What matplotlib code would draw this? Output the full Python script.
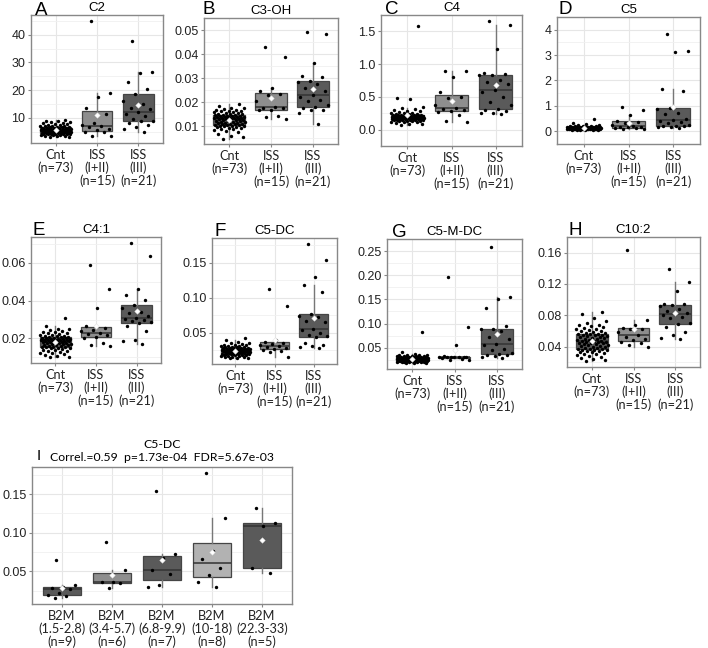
import matplotlib
matplotlib.use("Agg")
import matplotlib.pyplot as plt
import numpy as np

# x labels
iss_labels = ["Cnt\n(n=73)", "ISS\n(I+II)\n(n=15)", "ISS\n(III)\n(n=21)"]
b2m_labels = ["B2M\n(1.5-2.8)\n(n=9)", "B2M\n(3.4-5.7)\n(n=6)", "B2M\n(6.8-9.9)\n(n=7)",
              "B2M\n(10-18)\n(n=8)", "B2M\n(22.3-33)\n(n=5)"]

# ---- A: C2 ----
c2_cnt = [3.0, 3.2, 3.3, 3.5, 3.6, 3.7, 3.8, 3.9, 4.0, 4.0, 4.1, 4.2, 4.2, 4.3, 4.3, 4.4, 4.4, 4.5,
          4.5, 4.6, 4.6, 4.7, 4.7, 4.8, 4.8, 4.9, 5.0, 5.0, 5.1, 5.1, 5.2, 5.2, 5.3, 5.3, 5.4, 5.4,
          5.5, 5.5, 5.6, 5.6, 5.7, 5.7, 5.8, 5.9, 5.9, 6.0, 6.0, 6.1, 6.1, 6.2, 6.3, 6.3, 6.4, 6.4,
          6.5, 6.6, 6.7, 6.8, 6.9, 7.0, 7.1, 7.2, 7.4, 7.5, 7.7, 7.9, 8.0, 8.2, 8.4, 8.6, 8.8, 9.0, 9.2]
c2_iss12 = [45, 19, 17.5, 13.5, 11.5, 8, 7.5, 7, 6.5, 6, 5.5, 5, 4.8, 3.5, 3.3]
c2_iss3 = [37.7, 26.7, 26, 23, 20.5, 18.6, 16, 15, 13.5, 13, 12, 11.5, 10.5, 9.5, 9, 8.8, 8,
           7.5, 6.5, 6, 5]

# ---- B: C3-OH ----
c3oh_cnt = [0.0049, 0.0058, 0.0062, 0.0068, 0.0075, 0.0080, 0.0084, 0.0088, 0.0090, 0.0093,
            0.0095, 0.0097, 0.0099, 0.0100, 0.0101, 0.0102, 0.0103, 0.0104, 0.0105, 0.0106,
            0.0108, 0.0109, 0.0110, 0.0112, 0.0113, 0.0115, 0.0116, 0.0118, 0.0119, 0.0120,
            0.0122, 0.0123, 0.0124, 0.0126, 0.0127, 0.0128, 0.0129, 0.0130, 0.0131, 0.0132,
            0.0133, 0.0134, 0.0135, 0.0136, 0.0137, 0.0138, 0.0139, 0.0140, 0.0141, 0.0142,
            0.0143, 0.0144, 0.0145, 0.0146, 0.0147, 0.0148, 0.0150, 0.0151, 0.0153, 0.0155,
            0.0157, 0.0159, 0.0160, 0.0162, 0.0164, 0.0166, 0.0168, 0.0170, 0.0172, 0.0175,
            0.0178, 0.0185, 0.0192]
c3oh_iss12 = [0.043, 0.039, 0.026, 0.0245, 0.0235, 0.023, 0.0205, 0.018, 0.0178, 0.0175,
              0.017, 0.0168, 0.0145, 0.014, 0.013]
c3oh_iss3 = [0.049, 0.0485, 0.0365, 0.031, 0.0305, 0.029, 0.0285, 0.0275, 0.026, 0.0245,
             0.0232, 0.022, 0.021, 0.0205, 0.019, 0.018, 0.0175, 0.017, 0.017, 0.0155, 0.011]

# ---- C: C4 ----
c4_cnt = [0.07, 0.08, 0.09, 0.10, 0.11, 0.115, 0.12, 0.125, 0.13, 0.13, 0.135, 0.14, 0.14, 0.145,
          0.145, 0.15, 0.15, 0.155, 0.155, 0.16, 0.16, 0.165, 0.165, 0.17, 0.17, 0.17, 0.175, 0.175,
          0.18, 0.18, 0.18, 0.185, 0.185, 0.185, 0.19, 0.19, 0.19, 0.195, 0.195, 0.195, 0.20, 0.20,
          0.20, 0.205, 0.205, 0.21, 0.21, 0.21, 0.215, 0.215, 0.22, 0.22, 0.22, 0.225, 0.225, 0.23,
          0.23, 0.235, 0.24, 0.245, 0.25, 0.255, 0.26, 0.27, 0.28, 0.29, 0.30, 0.31, 0.33, 0.35,
          0.46, 0.49, 1.58]
c4_iss12 = [0.90, 0.89, 0.80, 0.57, 0.50, 0.48, 0.38, 0.33, 0.32, 0.30, 0.29, 0.27, 0.23, 0.13, 0.11]
c4_iss3 = [1.66, 1.59, 1.23, 0.87, 0.85, 0.84, 0.83, 0.76, 0.72, 0.70, 0.60, 0.57, 0.50, 0.42,
           0.37, 0.31, 0.30, 0.28, 0.26, 0.25, 0.24]

# ---- D: C5 ----
c5_cnt = [0.05, 0.055, 0.06, 0.065, 0.07, 0.07, 0.075, 0.08, 0.08, 0.085, 0.085, 0.09, 0.09, 0.09,
          0.095, 0.095, 0.10, 0.10, 0.10, 0.10, 0.105, 0.105, 0.11, 0.11, 0.11, 0.115, 0.115, 0.12,
          0.12, 0.12, 0.12, 0.125, 0.125, 0.125, 0.13, 0.13, 0.13, 0.13, 0.135, 0.135, 0.135, 0.14,
          0.14, 0.14, 0.145, 0.145, 0.145, 0.15, 0.15, 0.15, 0.155, 0.155, 0.155, 0.16, 0.16, 0.165,
          0.165, 0.17, 0.17, 0.175, 0.18, 0.18, 0.185, 0.19, 0.195, 0.20, 0.21, 0.22, 0.24, 0.26,
          0.29, 0.31, 0.47]
c5_iss12 = [0.96, 0.83, 0.63, 0.42, 0.38, 0.33, 0.26, 0.22, 0.18, 0.17, 0.15, 0.14, 0.12, 0.10, 0.08]
c5_iss3 = [3.83, 3.15, 3.12, 1.68, 1.58, 0.92, 0.88, 0.72, 0.70, 0.50, 0.43, 0.40, 0.38, 0.32,
           0.25, 0.22, 0.21, 0.19, 0.18, 0.15, 0.12]

# ---- E: C4:1 ----
c41_cnt = [0.0100, 0.0103, 0.0106, 0.0110, 0.0115, 0.0120, 0.0124, 0.0128, 0.0132, 0.0135,
           0.0138, 0.0141, 0.0144, 0.0147, 0.0149, 0.0151, 0.0153, 0.0154, 0.0155, 0.0157,
           0.0159, 0.0161, 0.0163, 0.0165, 0.0167, 0.0169, 0.0171, 0.0172, 0.0174, 0.0176,
           0.0177, 0.0179, 0.0180, 0.0182, 0.0183, 0.0184, 0.0185, 0.0186, 0.0187, 0.0188,
           0.0189, 0.0190, 0.0191, 0.0192, 0.0193, 0.0194, 0.0195, 0.0196, 0.0197, 0.0198,
           0.0200, 0.0201, 0.0202, 0.0204, 0.0205, 0.0207, 0.0209, 0.0211, 0.0213, 0.0215,
           0.0217, 0.0220, 0.0223, 0.0226, 0.0229, 0.0232, 0.0235, 0.0238, 0.0242, 0.0248,
           0.0252, 0.0268, 0.0310]
c41_iss12 = [0.059, 0.046, 0.036, 0.0265, 0.0255, 0.0245, 0.024, 0.0228, 0.0225, 0.022, 0.021,
             0.020, 0.0175, 0.0165, 0.016]
c41_iss3 = [0.0707, 0.0639, 0.0461, 0.0431, 0.0405, 0.0378, 0.036, 0.034, 0.0335, 0.032, 0.031,
            0.0305, 0.030, 0.029, 0.0285, 0.028, 0.0265, 0.024, 0.019, 0.0185, 0.017]

# ---- F: C5-DC ----
c5dc_cnt = [0.0135, 0.014, 0.0145, 0.015, 0.0155, 0.016, 0.0165, 0.017, 0.0172, 0.0175, 0.018,
            0.0183, 0.0186, 0.019, 0.0192, 0.0195, 0.0197, 0.020, 0.020, 0.0203, 0.0206, 0.021,
            0.0212, 0.0215, 0.0218, 0.022, 0.0223, 0.0226, 0.0228, 0.023, 0.0232, 0.0234, 0.0236,
            0.0237, 0.0238, 0.0239, 0.024, 0.0242, 0.0244, 0.0246, 0.0248, 0.025, 0.0252, 0.0254,
            0.0256, 0.0258, 0.026, 0.0262, 0.0264, 0.0266, 0.0269, 0.0272, 0.0275, 0.0278, 0.028,
            0.0283, 0.0286, 0.029, 0.0294, 0.0298, 0.030, 0.0305, 0.031, 0.0315, 0.032, 0.0325,
            0.033, 0.034, 0.035, 0.036, 0.037, 0.039, 0.043]
c5dc_iss12 = [0.113, 0.088, 0.039, 0.037, 0.036, 0.034, 0.032, 0.031, 0.029, 0.028, 0.027, 0.026,
              0.0245, 0.023, 0.016]
c5dc_iss3 = [0.177, 0.154, 0.130, 0.118, 0.108, 0.076, 0.074, 0.073, 0.066, 0.065, 0.055, 0.054,
             0.050, 0.047, 0.045, 0.044, 0.036, 0.032, 0.031, 0.029, 0.028]

# ---- G: C5-M-DC ----
c5mdc_cnt = [0.018, 0.0185, 0.019, 0.0195, 0.020, 0.0203, 0.0206, 0.021, 0.0212, 0.0214, 0.0216,
             0.0218, 0.022, 0.0221, 0.0222, 0.0223, 0.0224, 0.0225, 0.0225, 0.0227, 0.0229, 0.023,
             0.0232, 0.0234, 0.0236, 0.0238, 0.024, 0.0242, 0.0244, 0.0246, 0.0248, 0.025, 0.0252,
             0.0254, 0.0256, 0.0258, 0.026, 0.0262, 0.0264, 0.0266, 0.0268, 0.027, 0.0272, 0.0274,
             0.0276, 0.0278, 0.028, 0.0282, 0.0284, 0.0286, 0.0288, 0.029, 0.0294, 0.0297, 0.030,
             0.0302, 0.0305, 0.0308, 0.031, 0.0313, 0.0316, 0.032, 0.0324, 0.0328, 0.0332, 0.0336,
             0.034, 0.0345, 0.035, 0.036, 0.038, 0.042, 0.082]
c5mdc_iss12 = [0.196, 0.092, 0.055, 0.032, 0.0315, 0.031, 0.0308, 0.0305, 0.030, 0.030, 0.0298,
               0.0295, 0.026, 0.025, 0.025]
c5mdc_iss3 = [0.258, 0.155, 0.151, 0.132, 0.096, 0.089, 0.088, 0.085, 0.072, 0.068, 0.057, 0.056,
              0.048, 0.046, 0.040, 0.038, 0.036, 0.034, 0.033, 0.030, 0.028]

# ---- H: C10:2 ----
c102_cnt = [0.021, 0.0225, 0.024, 0.0255, 0.027, 0.028, 0.029, 0.030, 0.031, 0.032, 0.0328, 0.0335,
            0.034, 0.0345, 0.035, 0.0355, 0.036, 0.0365, 0.037, 0.0375, 0.038, 0.0386, 0.0392,
            0.0398, 0.0404, 0.041, 0.0416, 0.0422, 0.0428, 0.0434, 0.044, 0.0445, 0.045, 0.0455,
            0.046, 0.0463, 0.0467, 0.047, 0.0476, 0.0482, 0.0488, 0.0494, 0.050, 0.0506, 0.0512,
            0.0518, 0.0524, 0.053, 0.0536, 0.0542, 0.0548, 0.0553, 0.0558, 0.0562, 0.0565, 0.057,
            0.0578, 0.0586, 0.0594, 0.060, 0.061, 0.062, 0.063, 0.064, 0.065, 0.066, 0.067, 0.068,
            0.070, 0.073, 0.076, 0.082, 0.084]
c102_iss12 = [0.163, 0.074, 0.068, 0.0635, 0.063, 0.062, 0.059, 0.055, 0.0525, 0.050, 0.048,
              0.0455, 0.045, 0.042, 0.040]
c102_iss3 = [0.139, 0.123, 0.111, 0.095, 0.094, 0.093, 0.092, 0.088, 0.085, 0.083, 0.081, 0.080,
             0.078, 0.076, 0.070, 0.069, 0.065, 0.058, 0.055, 0.051, 0.050]

# ---- I: C5-DC by B2M ----
b2m_g1 = [0.065, 0.032, 0.030, 0.028, 0.027, 0.022, 0.020, 0.018, 0.016]
b2m_g2 = [0.088, 0.052, 0.0365, 0.036, 0.035, 0.028]
b2m_g3 = [0.154, 0.073, 0.067, 0.052, 0.047, 0.032, 0.030]
b2m_g4 = [0.177, 0.119, 0.076, 0.066, 0.055, 0.045, 0.036, 0.030]
b2m_g5 = [0.132, 0.113, 0.109, 0.055, 0.0475]

DARK = "#5a5a5a"
MID = "#8e8e8e"
LIGHT = "#b2b2b2"

fig = plt.figure(figsize=(7.08, 6.48), dpi=100)
W, H = 708, 648


def add_ax(l, r, t, b):
    return fig.add_axes([l / W, 1 - b / H, (r - l) / W, (b - t) / H])


def panel(ax, data, labels, colors, ticks, ticklabels, jw=0.38):
    n = len(data)
    pos = np.arange(1, n + 1)
    bp = ax.boxplot(data, positions=pos, widths=0.75, whis=1.5, showfliers=False,
                    patch_artist=True, zorder=2)
    for patch, c in zip(bp["boxes"], colors):
        patch.set_facecolor(c)
        patch.set_edgecolor("#454545")
        patch.set_linewidth(0.9)
    for w in bp["whiskers"]:
        w.set_color("#777777")
        w.set_linewidth(1.0)
    for c in bp["caps"]:
        c.set_visible(False)
    for m in bp["medians"]:
        m.set_color("#333333")
        m.set_linewidth(1.1)
    for i, d in enumerate(data):
        d = np.asarray(d)
        k = np.arange(len(d))
        off = ((k * 0.618034 + 0.31) % 1 - 0.5) * 2 * jw
        ax.scatter(pos[i] + off, d, s=6, color="black", zorder=3, linewidths=0)
        ax.scatter(pos[i], d.mean(), s=8, marker="D", color="white", zorder=4,
                   edgecolors="#dddddd", linewidths=0.3)
    lo = min(min(d) for d in data)
    hi = max(max(d) for d in data)
    pad = (hi - lo) * 0.05
    ax.set_ylim(lo - pad, hi + pad)
    ax.set_xlim(0.4, n + 0.6)
    ax.set_xticks(pos)
    ax.set_xticklabels(labels, fontfamily="Lato", fontsize=9.2, linespacing=1.08)
    ax.set_yticks(ticks)
    ax.set_yticklabels(ticklabels, fontsize=9, fontfamily="Liberation Sans")
    step = ticks[1] - ticks[0]
    minor = np.arange(ticks[0] - step / 2, ticks[-1] + step, step)
    ax.set_yticks(minor, minor=True)
    ax.tick_params(which="minor", length=0)
    ax.tick_params(axis="both", length=2.5, color="#888888", colors="#222222", pad=1.5)
    ax.grid(True, which="major", color="#e6e6e6", linewidth=0.8, zorder=0)
    ax.grid(True, which="minor", axis="y", color="#f0f0f0", linewidth=0.6, zorder=0)
    ax.set_axisbelow(True)
    for s in ax.spines.values():
        s.set_color("#888888")
        s.set_linewidth(1.0)


def title(ax, letter, name, lx, ly):
    ax.set_title(name, fontsize=9.5, fontfamily="Liberation Sans", pad=3)
    fig.text(lx / W, 1 - ly / H, letter, fontsize=13.5, fontfamily="Liberation Sans",
             va="baseline")


cols3 = [DARK, MID, DARK]

ax = add_ax(31, 163, 15, 143)
panel(ax, [c2_cnt, c2_iss12, c2_iss3], iss_labels, cols3, [10, 20, 30, 40], ["10", "20", "30", "40"])
title(ax, "A", "C2", 35, 15)

ax = add_ax(204, 338, 18, 144)
panel(ax, [c3oh_cnt, c3oh_iss12, c3oh_iss3], iss_labels, cols3,
      [0.01, 0.02, 0.03, 0.04, 0.05], ["0.01", "0.02", "0.03", "0.04", "0.05"])
title(ax, "B", "C3-OH", 203, 14)

ax = add_ax(381, 522, 15, 146)
panel(ax, [c4_cnt, c4_iss12, c4_iss3], iss_labels, cols3,
      [0.0, 0.5, 1.0, 1.5], ["0.0", "0.5", "1.0", "1.5"])
title(ax, "C", "C4", 385, 14)

ax = add_ax(557, 700, 17, 144)
panel(ax, [c5_cnt, c5_iss12, c5_iss3], iss_labels, cols3,
      [0, 1, 2, 3, 4], ["0", "1", "2", "3", "4"])
title(ax, "D", "C5", 558, 14)

ax = add_ax(31, 161, 237, 363)
panel(ax, [c41_cnt, c41_iss12, c41_iss3], iss_labels, cols3,
      [0.02, 0.04, 0.06], ["0.02", "0.04", "0.06"])
title(ax, "E", "C4:1", 33, 235)

ax = add_ax(212, 337, 238, 364)
panel(ax, [c5dc_cnt, c5dc_iss12, c5dc_iss3], iss_labels, cols3,
      [0.05, 0.10, 0.15], ["0.05", "0.10", "0.15"])
title(ax, "F", "C5-DC", 215, 236)

ax = add_ax(387, 522, 239, 369)
panel(ax, [c5mdc_cnt, c5mdc_iss12, c5mdc_iss3], iss_labels, cols3,
      [0.05, 0.10, 0.15, 0.20, 0.25], ["0.05", "0.10", "0.15", "0.20", "0.25"])
title(ax, "G", "C5-M-DC", 392, 237)

ax = add_ax(567, 700, 237, 367)
panel(ax, [c102_cnt, c102_iss12, c102_iss3], iss_labels, cols3,
      [0.04, 0.08, 0.12, 0.16], ["0.04", "0.08", "0.12", "0.16"])
title(ax, "H", "C10:2", 568, 235)

ax = add_ax(32, 292, 467, 604)
panel(ax, [b2m_g1, b2m_g2, b2m_g3, b2m_g4, b2m_g5], b2m_labels,
      [DARK, MID, DARK, LIGHT, DARK], [0.05, 0.10, 0.15], ["0.05", "0.10", "0.15"], jw=0.3)
ax.set_title("C5-DC\nCorrel.=0.59  p=1.73e-04  FDR=5.67e-03", fontsize=8.8,
             fontfamily="Lato", pad=4, linespacing=1.3)
fig.text(37 / W, 1 - 460 / H, "I", fontsize=11, fontfamily="Liberation Sans", va="baseline")

fig.savefig("out.png", dpi=100, facecolor="white")
